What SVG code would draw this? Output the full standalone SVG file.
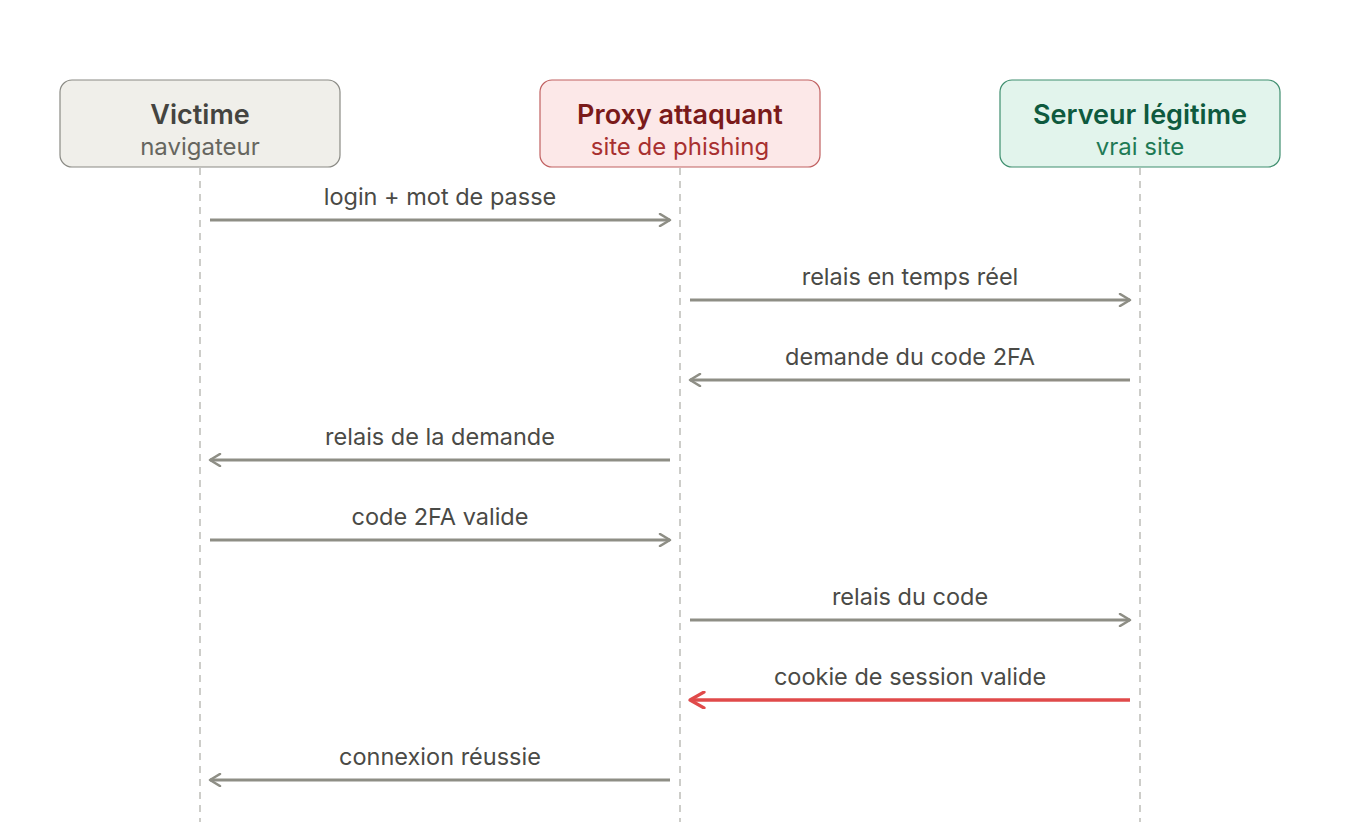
<svg xmlns="http://www.w3.org/2000/svg" width="1360" height="833" viewBox="0 0 1360 833">
<style>
.life{stroke:#bdbdb8;stroke-width:1.5;stroke-dasharray:7,6;fill:none}
.msg{stroke:#8e8e85;stroke-width:3;fill:none}
.hot{stroke:#e04a4a;stroke-width:3.5;fill:none}
.lbl{font-family:Inter,"Liberation Sans",Arial,sans-serif;font-size:23.5px;fill:#4a4a46;text-anchor:middle}
.t{font-family:Inter,"Liberation Sans",Arial,sans-serif;font-size:27px;font-weight:600;text-anchor:middle}
.s{font-family:Inter,"Liberation Sans",Arial,sans-serif;font-size:24px;text-anchor:middle}
</style>
<defs>
<marker id="ah" viewBox="0 0 14 14" refX="12" refY="7" markerWidth="14" markerHeight="14" markerUnits="userSpaceOnUse" orient="auto-start-reverse">
<path d="M2,1 L12,7 L2,13" fill="none" stroke="#8e8e85" stroke-width="2.5" stroke-linecap="round" stroke-linejoin="round"/>
</marker>
<marker id="ahr" viewBox="0 0 18 18" refX="16" refY="9" markerWidth="18" markerHeight="18" markerUnits="userSpaceOnUse" orient="auto-start-reverse">
<path d="M2,1 L16,9 L2,17" fill="none" stroke="#e04a4a" stroke-width="3.2" stroke-linecap="round" stroke-linejoin="round"/>
</marker>
</defs>
<rect width="1360" height="833" fill="#ffffff"/>
<g id="lifelines">
<line class="life" x1="200" y1="168" x2="200" y2="822"/>
<line class="life" x1="680" y1="168" x2="680" y2="822"/>
<line class="life" x1="1140" y1="168" x2="1140" y2="822"/>
</g>
<g id="victime">
<rect x="60" y="80" width="280" height="87" rx="12" fill="#f0efea" stroke="#8a8a84" stroke-width="1.2"/>
<text class="t" x="200" y="124" fill="#444440">Victime</text>
<text class="s" x="200" y="155" fill="#66665f">navigateur</text>
</g>
<g id="proxy">
<rect x="540" y="80" width="280" height="87" rx="12" fill="#fce8e8" stroke="#c06060" stroke-width="1.2"/>
<text class="t" x="680" y="124" fill="#7a1a1a">Proxy attaquant</text>
<text class="s" x="680" y="155" fill="#a83030">site de phishing</text>
</g>
<g id="serveur">
<rect x="1000" y="80" width="280" height="87" rx="12" fill="#e2f4ec" stroke="#3e8e6e" stroke-width="1.2"/>
<text class="t" x="1140" y="124" fill="#0e5a3e">Serveur légitime</text>
<text class="s" x="1140" y="155" fill="#1e7a55">vrai site</text>
</g>
<g id="connectors">
<line class="msg" x1="210" y1="220" x2="670" y2="220" marker-end="url(#ah)"/>
<text class="lbl" x="440" y="205">login + mot de passe</text>
<line class="msg" x1="690" y1="300" x2="1130" y2="300" marker-end="url(#ah)"/>
<text class="lbl" x="910" y="285">relais en temps réel</text>
<line class="msg" x1="1130" y1="380" x2="690" y2="380" marker-end="url(#ah)"/>
<text class="lbl" x="910" y="365">demande du code 2FA</text>
<line class="msg" x1="670" y1="460" x2="210" y2="460" marker-end="url(#ah)"/>
<text class="lbl" x="440" y="445">relais de la demande</text>
<line class="msg" x1="210" y1="540" x2="670" y2="540" marker-end="url(#ah)"/>
<text class="lbl" x="440" y="525">code 2FA valide</text>
<line class="msg" x1="690" y1="620" x2="1130" y2="620" marker-end="url(#ah)"/>
<text class="lbl" x="910" y="605">relais du code</text>
<line class="hot" x1="1130" y1="700" x2="690" y2="700" marker-end="url(#ahr)"/>
<text class="lbl" x="910" y="685">cookie de session valide</text>
<line class="msg" x1="670" y1="780" x2="210" y2="780" marker-end="url(#ah)"/>
<text class="lbl" x="440" y="765">connexion réussie</text>
</g>
</svg>
